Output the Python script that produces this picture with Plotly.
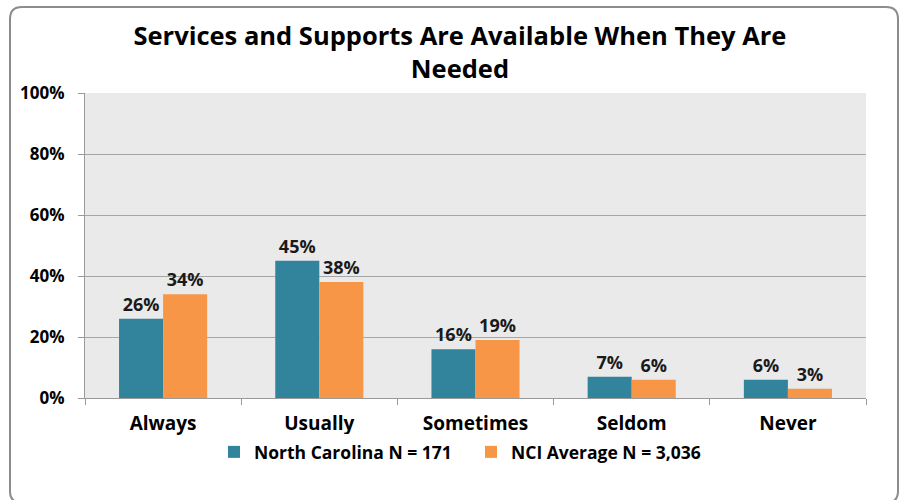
import plotly.graph_objects as go

categories = ["Always", "Usually", "Sometimes", "Seldom", "Never"]
nc_values = [26, 45, 16, 7, 6]
nci_values = [34, 38, 19, 6, 3]
nc_name = "North Carolina N = 171"
nci_name = "NCI Average N = 3,036"
y_ticks = [0, 20, 40, 60, 80, 100]
y_tick_labels = ["0%", "20%", "40%", "60%", "80%", "100%"]

W, H = 901, 500
L, R, T, B = 85, 35, 93, 102
FONT = "Open Sans"

def px(x):
    return (x - L) / (W - L - R)

def py(y):
    return (H - B - y) / (H - T - B)

fig = go.Figure()
fig.add_trace(go.Bar(
    x=categories, y=nc_values, name=nc_name,
    marker=dict(color="#31849B", line=dict(width=0)),
    text=[f"{v}%" for v in nc_values], textposition="outside",
    textfont=dict(family=FONT, size=18, color="#1a1a1a", weight="bold"),
    cliponaxis=False,
))
fig.add_trace(go.Bar(
    x=categories, y=nci_values, name=nci_name,
    marker=dict(color="#F79646", line=dict(width=0)),
    text=[f"{v}%" for v in nci_values], textposition="outside",
    textfont=dict(family=FONT, size=18, color="#1a1a1a", weight="bold"),
    cliponaxis=False,
))

# rounded outer frame
x0, x1, y0, y1, r = px(10), px(898), py(7), py(503), 12
rx = r / (W - L - R)
ry = r / (H - T - B)
path = (f"M {x0},{y1+ry} L {x0},{y0-ry} Q {x0},{y0} {x0+rx},{y0} "
        f"L {x1-rx},{y0} Q {x1},{y0} {x1},{y0-ry} L {x1},{y1+ry} "
        f"Q {x1},{y1} {x1-rx},{y1} L {x0+rx},{y1} Q {x0},{y1} {x0},{y1+ry} Z")

fig.update_layout(
    width=W, height=H,
    margin=dict(l=L, r=R, t=T, b=B, autoexpand=False),
    paper_bgcolor="white",
    plot_bgcolor="#EAEAEA",
    barmode="group",
    bargap=0.436,
    bargroupgap=0,
    title=dict(
        text="Services and Supports Are Available When They Are<br>Needed",
        x=0.5105, xanchor="center", y=1 - 45 / H, yanchor="middle",
        font=dict(family=FONT, size=25.5, color="#000000", weight="bold"),
    ),
    font=dict(family=FONT, color="#000000"),
    legend=dict(
        orientation="h", x=px(471), xanchor="center", y=py(452), yanchor="middle",
        font=dict(family=FONT, size=17.5, color="#000000", weight="bold"),
        itemwidth=30, tracegroupgap=0, entrywidth=212,
    ),
    shapes=[dict(type="path", path=path, xref="paper", yref="paper",
                 line=dict(color="#8c8c8c", width=2), fillcolor="rgba(0,0,0,0)",
                 layer="below")],
    xaxis=dict(
        showline=True, linecolor="#9a9a9a", linewidth=1,
        ticks="outside", tickson="boundaries", ticklen=6, tickcolor="#9a9a9a",
        tickfont=dict(family=FONT, size=19, color="#000000", weight="bold"),
        ticklabelstandoff=8,
        showgrid=False,
    ),
    yaxis=dict(
        range=[0, 100], tickvals=y_ticks, ticktext=y_tick_labels,
        showline=True, linecolor="#9a9a9a", linewidth=1,
        ticks="outside", ticklen=6, tickcolor="#9a9a9a",
        showgrid=True, gridcolor="#A6A6A6", gridwidth=1,
        tickfont=dict(family=FONT, size=17, color="#000000", weight="bold"),
        ticklabelstandoff=10,
        zeroline=False,
    ),
)

fig.write_html("out.html", config={"displayModeBar": False},
               post_script="document.body.style.margin='0';")
